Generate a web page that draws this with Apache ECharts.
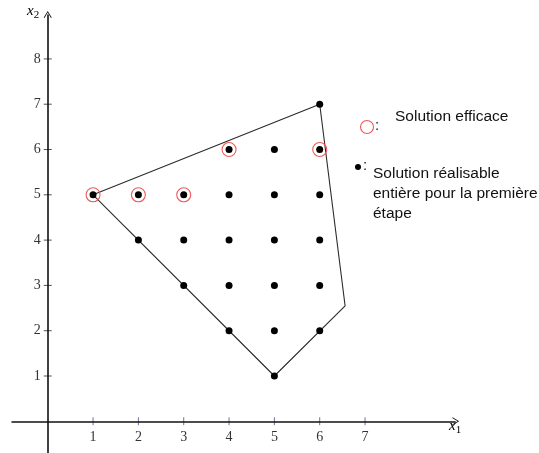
<!DOCTYPE html>
<html>
<head>
<meta charset="utf-8">
<script src="https://cdn.jsdelivr.net/npm/echarts@6/dist/echarts.min.js"></script>
<style>
  html, body { margin: 0; padding: 0; background: #fff; }
  #chart { width: 539px; height: 453px; }
</style>
</head>
<body>
<div id="chart"></div>
<script>
// Tick values shown on each axis
const xTicks = [1, 2, 3, 4, 5, 6, 7];
const yTicks = [1, 2, 3, 4, 5, 6, 7, 8];

// Integer feasible solutions of the first stage
const feasiblePoints = [
  [6, 7],
  [4, 6], [5, 6], [6, 6],
  [1, 5], [2, 5], [3, 5], [4, 5], [5, 5], [6, 5],
  [2, 4], [3, 4], [4, 4], [5, 4], [6, 4],
  [3, 3], [4, 3], [5, 3], [6, 3],
  [4, 2], [5, 2], [6, 2],
  [5, 1]
];

// Efficient solutions
const efficientPoints = [[1, 5], [2, 5], [3, 5], [4, 6], [6, 6]];

// Boundary of the feasible region (closed)
const regionBoundary = [[1, 5], [6, 7], [6.56, 2.55], [5, 1], [1, 5]];

// Extent of the drawn axis lines
const x1AxisExtent = [-0.8, 9];
const x2AxisExtent = [-1, 8.98];

const chart = echarts.init(document.getElementById('chart'));

const serif = '"Liberation Serif", "DejaVu Serif", serif';
const sans = '"Liberation Sans", Arial, sans-serif';
const arrowHead = 'path://M5,0 L10,10 L9,10.6 L5,2.4 L1,10.6 L0,10 Z';

const nameRich = {
  i: { fontFamily: serif, fontStyle: 'italic', fontSize: 15, color: '#333' },
  s: { fontFamily: serif, fontSize: 11, color: '#333', padding: [8, 0, 0, 0] }
};

chart.setOption({
  animation: false,
  backgroundColor: '#ffffff',
  grid: {
    left: 2.4, right: 83.3, top: 13.6, bottom: -13.6,
    containLabel: false,
    outerBoundsMode: 'none'
  },
  // the scales only; axis lines, ticks and labels are drawn by the series below
  xAxis: { type: 'value', min: -1, max: 9, interval: 1, show: false },
  yAxis: { type: 'value', min: -1, max: 9, interval: 1, show: false },
  series: [
    {
      // feasible region outline, plus the two coordinate axes
      type: 'line',
      data: regionBoundary,
      symbol: 'none',
      lineStyle: { color: '#2a2a2a', width: 1.1 },
      z: 2,
      markLine: {
        silent: true,
        symbol: ['none', arrowHead],
        symbolSize: [8, 7],
        label: { show: false },
        lineStyle: { color: '#111', width: 1.6, type: 'solid' },
        data: [
          [{ coord: [x1AxisExtent[0], 0] }, { coord: [x1AxisExtent[1], 0] }],
          [{ coord: [0, x2AxisExtent[0]] }, { coord: [0, x2AxisExtent[1]] }]
        ]
      }
    },
    {
      // tick marks and labels on x1
      type: 'scatter',
      data: xTicks.map(v => [v, 0]),
      symbol: 'rect',
      symbolSize: [1, 8],
      itemStyle: { color: '#7a6f9a', opacity: 1 },
      label: {
        show: true, position: 'bottom', distance: 5,
        formatter: p => String(p.value[0]),
        fontFamily: serif, fontSize: 14, color: '#333'
      },
      silent: true,
      z: 3
    },
    {
      // tick marks and labels on x2
      type: 'scatter',
      data: yTicks.map(v => [0, v]),
      symbol: 'rect',
      symbolSize: [8, 1],
      itemStyle: { color: '#555', opacity: 1 },
      label: {
        show: true, position: 'left', distance: 3,
        formatter: p => String(p.value[1]),
        fontFamily: serif, fontSize: 14, color: '#333'
      },
      silent: true,
      z: 3
    },
    {
      type: 'scatter',
      name: 'Solution efficace',
      data: efficientPoints,
      symbol: 'circle',
      symbolSize: 14,
      itemStyle: { color: 'rgba(0,0,0,0)', borderColor: '#ef5a5a', borderWidth: 1.1, opacity: 1 },
      z: 4
    },
    {
      type: 'scatter',
      name: 'Solution réalisable entière pour la première étape',
      data: feasiblePoints,
      symbol: 'circle',
      symbolSize: 7,
      itemStyle: { color: '#000', opacity: 1 },
      z: 5
    }
  ],
  graphic: [
    // axis names
    { type: 'text', left: 27, top: 4,
      style: { text: '{i|x}{s|2}', rich: nameRich } },
    { type: 'text', left: 449, top: 419,
      style: { text: '{i|x}{s|1}', rich: nameRich } },
    // key
    { type: 'circle', shape: { cx: 367, cy: 127, r: 6.5 },
      style: { fill: 'none', stroke: '#ef5a5a', lineWidth: 1.1 } },
    { type: 'text', left: 375, top: 118,
      style: { text: ':', font: '15px ' + sans, fill: '#222' } },
    { type: 'text', left: 395, top: 109,
      style: { text: 'Solution efficace', font: '15.5px ' + sans, fill: '#111' } },
    { type: 'circle', shape: { cx: 358, cy: 167, r: 3 },
      style: { fill: '#000' } },
    { type: 'text', left: 363, top: 158,
      style: { text: ':', font: '15px ' + sans, fill: '#222' } },
    { type: 'text', left: 373, top: 164,
      style: {
        text: 'Solution réalisable\nentière pour la première\nétape',
        font: '15.5px ' + sans, fill: '#111', lineHeight: 20
      } }
  ]
});
</script>
</body>
</html>
